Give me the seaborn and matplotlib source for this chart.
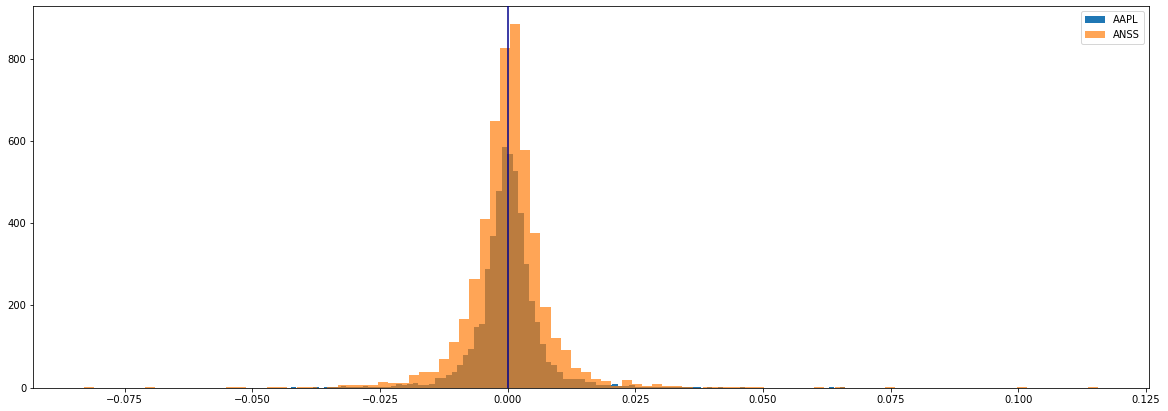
import numpy as np
import pandas as pd
import matplotlib
matplotlib.use("Agg")
import matplotlib.pyplot as plt
import seaborn as sns

# bin ranges (100 equal bins each, like plt.hist(..., bins=100))
aapl_range = (-0.04245, 0.06610)
anss_range = (-0.08294, 0.11562)

# AAPL counts per bin
aapl_counts = [
    1, 0, 0, 0, 1, 0, 1, 1, 1, 4,           # 0-9
    1, 1, 2, 4, 1, 2, 2, 2, 4, 10,          # 10-19
    7, 10, 12, 6, 6, 9, 24, 24, 32, 37,     # 20-29
    54, 80, 93, 148, 154, 288, 368, 478, 586, 568,   # 30-39
    526, 425, 300, 210, 159, 106, 63, 54, 37, 20,    # 40-49
    20, 20, 20, 15, 15, 7, 7, 7, 10, 5,     # 50-59
    5, 7, 2, 2, 2, 2, 2, 2, 2, 2,           # 60-69
    2, 1, 1, 1, 0, 1, 0, 1, 0, 0,           # 70-79
    0, 1, 0, 0, 0, 0, 0, 0, 0, 0,           # 80-89
    0, 0, 0, 0, 0, 0, 0, 1, 0, 1,           # 90-99
]

# ANSS counts per bin
anss_counts = [
    1, 0, 0, 0, 0, 0, 1, 0, 0, 0,           # 0-9
    0, 0, 0, 0, 1, 1, 0, 0, 1, 1,           # 10-19
    0, 1, 1, 0, 2, 7, 7, 7, 7, 15,          # 20-29
    12, 12, 32, 37, 37, 71, 111, 166, 265, 410,      # 30-39
    648, 826, 884, 578, 376, 196, 122, 91, 49, 39,   # 40-49
    22, 17, 5, 19, 10, 5, 10, 3, 3, 1,      # 50-59
    0, 1, 1, 1, 1, 1, 1, 0, 0, 0,           # 60-69
    0, 0, 1, 0, 1, 0, 0, 0, 0, 1,           # 70-79
    0, 0, 0, 0, 0, 0, 0, 0, 0, 0,           # 80-89
    0, 0, 1, 0, 0, 0, 0, 0, 0, 1,           # 90-99
]

labels = ["AAPL", "ANSS"]


def hist_frame(rng, counts):
    edges = np.linspace(rng[0], rng[1], len(counts) + 1)
    centers = (edges[:-1] + edges[1:]) / 2
    return pd.DataFrame({"ret": centers, "n": counts}), list(edges)


fig = plt.figure(figsize=(1168 / 72, 411 / 72), dpi=72)
# baseline placed so that single-count bars still get a pixel row
ax = fig.add_axes([0.0285, 23.3 / 411, 0.9552, 0.9854 - 23.3 / 411])

df1, e1 = hist_frame(aapl_range, aapl_counts)
df2, e2 = hist_frame(anss_range, anss_counts)

sns.histplot(data=df1, x="ret", weights="n", bins=e1, color="#1f77b4", alpha=1.0,
             linewidth=0, label=labels[0], zorder=3, ax=ax)
sns.histplot(data=df2, x="ret", weights="n", bins=e2, color="#ff7f0e", alpha=0.7,
             linewidth=0, label=labels[1], zorder=3, ax=ax)

ax.axvline(0, color="darkblue", linewidth=1.5, zorder=4)
ax.set_xlabel("")
ax.set_ylabel("")
ax.set_xticks(np.arange(-0.075, 0.1251, 0.025))
ax.legend(loc="upper right")

fig.savefig("out.png", dpi=72)
